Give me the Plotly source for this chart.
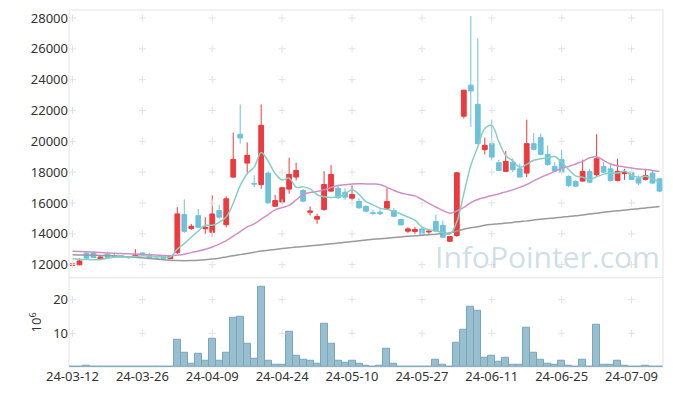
import plotly.graph_objects as go

dates = [
    "24-03-12", "24-03-13", "24-03-14", "24-03-15", "24-03-18", "24-03-19", "24-03-20", "24-03-21", "24-03-22", "24-03-25",
    "24-03-26", "24-03-27", "24-03-28", "24-03-29", "24-04-01", "24-04-02", "24-04-03", "24-04-04", "24-04-05", "24-04-08",
    "24-04-09", "24-04-11", "24-04-12", "24-04-15", "24-04-16", "24-04-17", "24-04-18", "24-04-19", "24-04-22", "24-04-23",
    "24-04-24", "24-04-25", "24-04-26", "24-04-29", "24-04-30", "24-05-02", "24-05-03", "24-05-07", "24-05-08", "24-05-09",
    "24-05-10", "24-05-13", "24-05-14", "24-05-16", "24-05-17", "24-05-20", "24-05-21", "24-05-22", "24-05-23", "24-05-24",
    "24-05-27", "24-05-28", "24-05-29", "24-05-30", "24-05-31", "24-06-03", "24-06-04", "24-06-05", "24-06-07", "24-06-10",
    "24-06-11", "24-06-12", "24-06-13", "24-06-14", "24-06-17", "24-06-18", "24-06-19", "24-06-20", "24-06-21", "24-06-24",
    "24-06-25", "24-06-26", "24-06-27", "24-06-28", "24-07-01", "24-07-02", "24-07-03", "24-07-04", "24-07-05", "24-07-08",
    "24-07-09", "24-07-10", "24-07-11", "24-07-12", "24-07-15",
]

opens = [
    11950, 11990, 12740, 12800, 12350, 12680, 12600, 12560, 12500, 12460,
    12760, 12610, 12420, 12560, 12390, 12780, 15250, 14350, 15180, 14330,
    14100, 15510, 14590, 17680, 20460, 18590, 17270, 17200, 17940, 15790,
    16050, 16900, 17680, 16810, 15400, 14950, 15580, 16770, 16960, 16700,
    16310, 16100, 15770, 15360, 15400, 15660, 15510, 14930, 14170, 14150,
    14320, 14120, 14800, 14540, 13520, 13890, 21630, 23640, 22400, 19460,
    19850, 18610, 18050, 18650, 18220, 17940, 19850, 20240, 19150, 18370,
    18810, 17720, 17400, 17420, 18050, 17830, 18370, 18220, 17460, 17900,
    18000, 17610, 17530, 17940, 17570,
]
highs = [
    12080, 12410, 12850, 12870, 12540, 12850, 12780, 12620, 12540, 13000,
    12800, 12760, 12460, 12600, 12580, 15730, 16230, 14640, 15620, 15080,
    16490, 15880, 16430, 20560, 22390, 19930, 17790, 22390, 18050, 16530,
    17050, 18940, 18610, 16900, 15770, 15300, 18070, 18460, 17180, 16960,
    17140, 16300, 15850, 15560, 15650, 16960, 15660, 14980, 14430, 14450,
    14400, 14320, 15250, 14860, 13850, 18000, 23350, 28130, 26680, 20240,
    21410, 18800, 19370, 18900, 18550, 21410, 20540, 20500, 19740, 18650,
    19460, 17800, 17480, 18810, 18220, 20460, 18650, 18550, 18870, 18220,
    18160, 17790, 18220, 18100, 17600,
]
lows = [
    11920, 11960, 12380, 12430, 12330, 12440, 12500, 12450, 12380, 12440,
    12650, 12380, 12350, 12380, 12380, 12700, 14050, 14250, 14350, 14000,
    13810, 15000, 14420, 17610, 19850, 17900, 17030, 16920, 15950, 15750,
    15950, 16600, 17460, 16050, 15190, 14650, 15500, 16700, 16270, 16210,
    16160, 15620, 15400, 15230, 15200, 15560, 15100, 14550, 14060, 14000,
    13850, 14000, 14100, 13700, 13480, 13800, 21480, 20930, 19800, 19150,
    18760, 18060, 18000, 18000, 17650, 17680, 19400, 19100, 18400, 18000,
    17950, 17030, 17050, 17380, 17300, 17680, 17950, 17400, 17400, 17500,
    17500, 17160, 17460, 17250, 16700,
]
closes = [
    12050, 12240, 12420, 12460, 12500, 12470, 12550, 12500, 12460, 12630,
    12720, 12400, 12390, 12400, 12560, 15290, 14160, 14490, 14420, 14430,
    15290, 15080, 16270, 18830, 20220, 19090, 17230, 21040, 16010, 16160,
    16990, 17850, 18110, 16120, 15480, 15120, 17200, 17850, 16340, 16380,
    16550, 15690, 15470, 15320, 15300, 16100, 15140, 14580, 14320, 14280,
    13950, 14170, 14170, 13780, 13820, 17960, 23320, 23270, 19850, 19740,
    18980, 18110, 18700, 18160, 17680, 19850, 19480, 19150, 18500, 18070,
    18000, 17140, 17090, 18050, 17350, 18870, 18000, 17460, 18050, 18000,
    17530, 17290, 17790, 17290, 16770,
]
volume_m = [
    0.05, 0.08, 0.4, 0.1, 0.08, 0.1, 0.06, 0.05, 0.05, 0.1,
    0.05, 0.06, 0.05, 0.05, 0.06, 8.2, 4.1, 0.9, 3.8, 1.8,
    8.5, 1.8, 4.1, 14.7, 15.0, 6.8, 2.4, 23.8, 1.8, 0.6,
    0.6, 10.6, 3.2, 2.1, 1.8, 0.9, 12.9, 6.8, 1.8, 1.2,
    1.8, 0.9, 0.3, 0.2, 0.5, 5.3, 0.9, 0.2, 0.2, 0.2,
    0.2, 0.2, 2.1, 0.6, 0.2, 7.1, 11.2, 17.9, 16.8, 2.8,
    3.2, 1.5, 2.8, 0.8, 0.8, 11.7, 4.3, 2.1, 1.1, 0.8,
    1.8, 0.5, 0.2, 2.1, 0.2, 12.4, 0.8, 0.8, 1.8, 0.5,
    0.2, 0.2, 0.5, 0.2, 0.2,
]
ma5 = [
    12380, 12350, 12330, 12320, 12334, 12418, 12480, 12496, 12496, 12522,
    12572, 12542, 12520, 12508, 12494, 13008, 13360, 13780, 14184, 14558,
    14558, 14742, 15098, 15980, 17138, 17898, 18328, 19282, 18718, 17906,
    17486, 17610, 17024, 17046, 16910, 16536, 16406, 16354, 16398, 16578,
    16864, 16562, 16086, 15882, 15666, 15576, 15466, 15288, 15088, 14884,
    14454, 14260, 14178, 14070, 13978, 14780, 16610, 18430, 19644, 20828,
    21032, 19990, 19076, 18738, 18326, 18500, 18774, 18864, 18932, 19010,
    18640, 18172, 17760, 17670, 17526, 17700, 17872, 17946, 17946, 18076,
    17808, 17666, 17732, 17580, 17334,
]
ma20 = [
    12870, 12850, 12830, 12810, 12790, 12760, 12740, 12720, 12700, 12690,
    12670, 12640, 12620, 12600, 12580, 12620, 12680, 12780, 12880, 13000,
    13150, 13330, 13560, 13850, 14150, 14450, 14650, 14950, 15250, 15550,
    15700, 15850, 16200, 16550, 16680, 16750, 16850, 17000, 17130, 17180,
    17230, 17250, 17240, 17230, 17200, 17010, 16810, 16650, 16550, 16460,
    16230, 15970, 15740, 15510, 15340, 15480, 15710, 16030, 16230, 16360,
    16490, 16590, 16720, 16850, 17010, 17200, 17430, 17660, 17850, 18050,
    18240, 18370, 18530, 18700, 18930, 19000, 18760, 18530, 18400, 18340,
    18270, 18210, 18180, 18110, 18050,
]
ma60 = [
    12640, 12630, 12620, 12610, 12600, 12580, 12560, 12540, 12510, 12480,
    12440, 12400, 12360, 12320, 12290, 12270, 12260, 12270, 12290, 12320,
    12360, 12420, 12500, 12580, 12650, 12720, 12800, 12880, 12940, 12990,
    13040, 13090, 13140, 13180, 13220, 13260, 13300, 13350, 13400, 13450,
    13500, 13550, 13600, 13640, 13680, 13720, 13760, 13800, 13840, 13880,
    13910, 13940, 13970, 14020, 14060, 14180, 14300, 14400, 14460, 14560,
    14610, 14650, 14700, 14740, 14790, 14840, 14900, 14950, 14990, 15030,
    15080, 15120, 15170, 15220, 15280, 15340, 15400, 15450, 15500, 15540,
    15590, 15630, 15680, 15720, 15770,
]
price_ticks = [12000, 14000, 16000, 18000, 20000, 22000, 24000, 26000, 28000]
vol_ticks = [10, 20]
x_tick_labels = dates[::10]

RED = "#ec3a3e"
BLUE = "#6dc2da"
GRID = "#e2e2e2"
FONT = "Noto Sans"

fig = go.Figure()

fig.add_trace(go.Candlestick(
    x=dates, open=opens, high=highs, low=lows, close=closes,
    xaxis="x", yaxis="y",
    increasing=dict(line=dict(color=RED, width=1), fillcolor=RED),
    decreasing=dict(line=dict(color=BLUE, width=1), fillcolor=BLUE),
    whiskerwidth=0, showlegend=False))

# grid "+" markers at tick intersections
gx, gy = [], []
for d in x_tick_labels:
    for p in price_ticks:
        gx.append(d)
        gy.append(p)
fig.add_trace(go.Scatter(x=gx, y=gy, mode="markers", xaxis="x", yaxis="y",
                         marker=dict(symbol="cross-thin", size=5, line=dict(color=GRID, width=1)),
                         hoverinfo="skip", showlegend=False))
vx, vy = [], []
for d in x_tick_labels:
    for v in vol_ticks:
        vx.append(d)
        vy.append(v)
fig.add_trace(go.Scatter(x=vx, y=vy, mode="markers", xaxis="x", yaxis="y2",
                         marker=dict(symbol="cross-thin", size=5, line=dict(color=GRID, width=1)),
                         hoverinfo="skip", showlegend=False))

fig.add_trace(go.Scatter(x=dates, y=ma60, mode="lines", xaxis="x", yaxis="y",
                         line=dict(color="#9a9a9a", width=1.5, shape="spline"), showlegend=False))
fig.add_trace(go.Scatter(x=dates, y=ma20, mode="lines", xaxis="x", yaxis="y",
                         line=dict(color="#cf8fc6", width=1.5, shape="spline"), showlegend=False))
fig.add_trace(go.Scatter(x=dates, y=ma5, mode="lines", xaxis="x", yaxis="y",
                         line=dict(color="#86cfc2", width=1.5, shape="spline"), showlegend=False))

fig.add_trace(go.Bar(x=dates, y=volume_m, xaxis="x", yaxis="y2",
                     marker=dict(color="rgba(138,182,201,0.88)", line=dict(color="#7ba6b9", width=1)),
                     showlegend=False))

# the page body adds an 8px offset, so the figure is sized/margined to compensate
fig.update_layout(
    width=665, height=388,
    margin=dict(l=61, r=10, t=2, b=29),
    paper_bgcolor="white", plot_bgcolor="white",
    font=dict(family=FONT, size=13, color="#333333"),
    bargap=0.0, boxgap=0.15, boxgroupgap=0.2,
    xaxis=dict(type="category", categoryorder="array", categoryarray=dates,
               anchor="y2", range=[-0.5, len(dates) - 0.5],
               rangeslider=dict(visible=False), showgrid=False, zeroline=False,
               tickmode="array", tickvals=x_tick_labels, ticktext=x_tick_labels,
               tickangle=0, ticks="", showline=False, tickfont=dict(size=13, color="#333")),
    yaxis=dict(domain=[0.25, 1.0], range=[11150, 28520], tickvals=price_ticks,
               tickformat="d", showgrid=False, zeroline=False, ticks="", showline=False,
               tickfont=dict(size=13, color="#333")),
    yaxis2=dict(domain=[0.0, 0.25], range=[0, 26.5], tickvals=vol_ticks,
                tickformat="d", showgrid=False, zeroline=False, ticks="", showline=False,
                title=dict(text="10<sup>6</sup>", font=dict(size=13, color="#333"), standoff=8),
                tickfont=dict(size=13, color="#333")),
    shapes=[
        dict(type="rect", xref="paper", yref="paper", x0=0, x1=1, y0=0, y1=1,
             line=dict(color="#e4e4e4", width=1), layer="below"),
        dict(type="line", xref="paper", yref="paper", x0=0, x1=1, y0=0.25, y1=0.25,
             line=dict(color="#e4e4e4", width=1), layer="below"),
    ],
    annotations=[
        dict(text="InfoPointer.com", xref="paper", yref="paper", x=0.805, y=0.31,
             xanchor="center", yanchor="middle", showarrow=False,
             font=dict(family="Open Sans", size=30, color="rgba(160,190,208,0.5)")),
    ],
)

fig.write_html("out.html")
